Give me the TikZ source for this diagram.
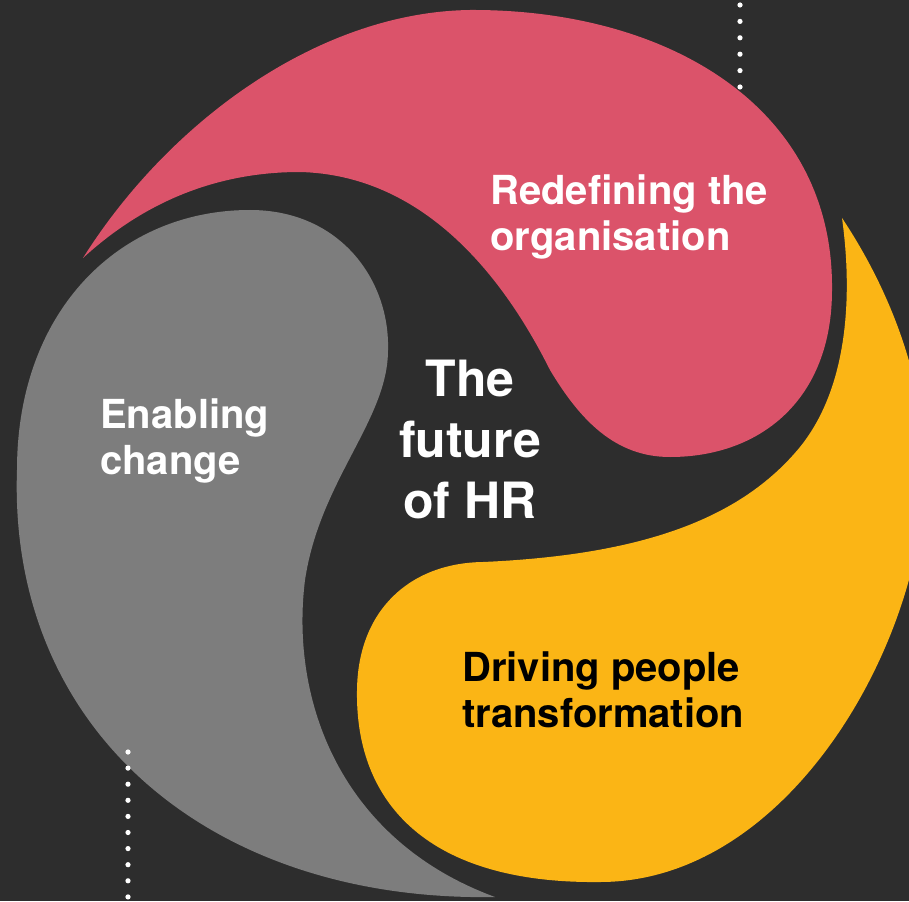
\documentclass[tikz,border=0pt]{standalone}
\usepackage{fontspec}
\setmainfont{TeX Gyre Heros}
\usetikzlibrary{positioning}
\definecolor{canvas}{HTML}{2D2D2D}
\definecolor{rosepink}{HTML}{DB536A}
\definecolor{stone}{HTML}{7D7D7D}
\definecolor{amber}{HTML}{FBB515}

\begin{document}
\begin{tikzpicture}[x=1pt,y=-1pt,
  tag/.style={font=\bfseries\fontsize{40}{46}\selectfont,align=left,anchor=base west,inner sep=0pt},
  hub/.style={font=\bfseries\fontsize{50}{61}\selectfont,align=center,text=white,anchor=base,inner sep=0pt}
]
\clip (0,0) rectangle (909,901);
\fill[canvas] (0,0) rectangle (909,901);

% redefining (top)
\fill[rosepink] (83,258) .. controls (170,120) and (320,12) .. (470,10)
  .. controls (665,9) and (834,105) .. (832,290)
  .. controls (832,400) and (760,457) .. (670,457)
  .. controls (615,457) and (580,420) .. (550,370)
  .. controls (500,270) and (420,175) .. (300,172)
  .. controls (200,172) and (130,215) .. (83,258) -- cycle;

% enabling (left)
\fill[stone] (495,897) .. controls (210,902) and (8,730) .. (17,470)
  .. controls (17,310) and (120,210) .. (250,210)
  .. controls (340,210) and (390,280) .. (388,350)
  .. controls (388,420) and (320,480) .. (305,580)
  .. controls (290,700) and (340,840) .. (495,897) -- cycle;

% driving (bottom right)
\fill[amber] (842,218) .. controls (890,290) and (925,380) .. (925,470)
  .. controls (925,640) and (790,882) .. (600,882)
  .. controls (430,884) and (355,805) .. (357,690)
  .. controls (358,610) and (410,563) .. (483,562)
  .. controls (640,555) and (740,520) .. (800,447)
  .. controls (850,385) and (852,290) .. (842,218) -- cycle;

% dotted guides
\foreach \y in {5,21.4,...,90} \fill[white] (740,\y) circle (2.6pt);
\foreach \y in {752,768.1,...,900} \fill[white] (128,\y) circle (2.6pt);

\node[tag,text=white] (redef) at (490,250) {Redefining the\\organisation};
\node[tag,text=white] (enable) at (100,474) {Enabling\\change};
\node[hub] (future) at (470,518) {The\\future\\of HR};
\node[tag,text=black] (drive) at (462,727) {Driving people\\transformation};
\end{tikzpicture}
\end{document}
